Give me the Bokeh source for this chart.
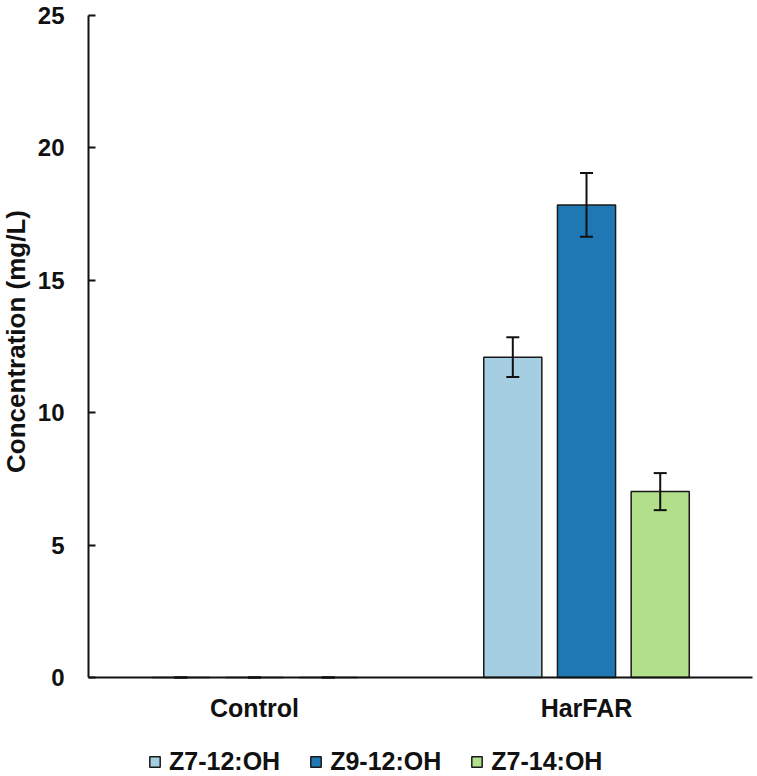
import math
from bokeh.plotting import figure
from bokeh.models import (ColumnDataSource, Range1d, Whisker, Legend, LegendItem, FixedTicker,
                          TeeHead, Label)
from bokeh.embed import file_html
from bokeh.resources import INLINE

categories = ["Control", "HarFAR"]
series = ["Z7-12:OH", "Z9-12:OH", "Z7-14:OH"]
z7_12 = [0.0, 12.1]
z9_12 = [0.0, 17.85]
z7_14 = [0.0, 7.02]
z7_12_err = [0.0, 0.75]
z9_12_err = [0.0, 1.2]
z7_14_err = [0.0, 0.7]
colors = ["#a6cee3", "#1f78b4", "#b2df8a"]
y_ticks = [0, 5, 10, 15, 20, 25]
y_label = "Concentration (mg/L)"

FONT = "Liberation Sans"
INK = "#111111"

n = len(categories)
centers = [i + 0.5 for i in range(n)]

p = figure(x_range=Range1d(-0.265, n + 0.015), y_range=Range1d(-3.74, 25.57),
           width=757, height=776, output_backend="svg", toolbar_location=None,
           min_border_left=0, min_border_right=0, min_border_top=0, min_border_bottom=0)
p.outline_line_color = None
p.grid.visible = False
p.background_fill_color = "white"

offsets = [-0.222, 0.0, 0.222]
vals = [z7_12, z9_12, z7_14]
errs = [z7_12_err, z9_12_err, z7_14_err]
items = []
for name, v, e, off, c in zip(series, vals, errs, offsets, colors):
    src = ColumnDataSource(dict(x=[cx + off for cx in centers], top=v,
                                upper=[a + b for a, b in zip(v, e)],
                                lower=[a - b for a, b in zip(v, e)]))
    r = p.vbar(x="x", top="top", bottom=0, width=0.175, source=src,
               fill_color=c, line_color="#1a1a1a", line_width=1.5)
    w = Whisker(base="x", upper="upper", lower="lower", source=src,
                level="overlay", line_color=INK, line_width=2,
                upper_head=TeeHead(size=13, line_color=INK, line_width=2),
                lower_head=TeeHead(size=13, line_color=INK, line_width=2))
    p.add_layout(w)
    items.append(LegendItem(label=name, renderers=[r]))

yax = p.yaxis[0]
yax.fixed_location = 0
yax.bounds = (0, 25)
yax.ticker = FixedTicker(ticks=y_ticks)
yax.minor_tick_line_color = None
yax.major_tick_in = 7
yax.major_tick_out = 0
yax.major_tick_line_width = 2
yax.axis_line_width = 2
yax.axis_line_color = INK
yax.major_tick_line_color = INK
yax.major_label_text_font = FONT
yax.major_label_text_font_style = "bold"
yax.major_label_text_font_size = "24px"
yax.major_label_text_color = INK
yax.major_label_standoff = 24

xax = p.xaxis[0]
xax.fixed_location = 0
xax.bounds = (0, n)
xax.ticker = FixedTicker(ticks=centers)
xax.major_label_overrides = {cx: lab for cx, lab in zip(centers, categories)}
xax.major_tick_line_color = None
xax.minor_tick_line_color = None
xax.major_tick_out = 0
xax.axis_line_width = 2
xax.axis_line_color = INK
xax.major_label_text_font = FONT
xax.major_label_text_font_style = "bold"
xax.major_label_text_font_size = "25px"
xax.major_label_text_color = INK
xax.major_label_standoff = 17

p.add_layout(Label(x=15, y=776 - 341, x_units="screen", y_units="screen", text=y_label,
                   angle=math.pi / 2, text_align="center", text_baseline="middle",
                   text_font=FONT, text_font_style="bold", text_font_size="26px",
                   text_color=INK))

legend = Legend(items=items, orientation="horizontal", location=(148, 0),
                padding=0, margin=0, spacing=29, label_standoff=8,
                glyph_width=13, glyph_height=13,
                border_line_color=None, background_fill_alpha=0,
                label_text_font=FONT, label_text_font_style="bold",
                label_text_font_size="25px", label_text_color=INK)
p.add_layout(legend, "center")

open("out.html", "w").write(file_html(p, INLINE))
